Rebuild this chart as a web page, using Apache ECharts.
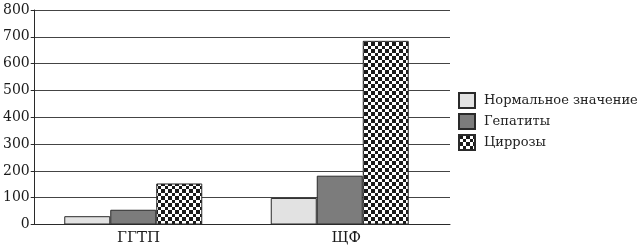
<!DOCTYPE html>
<html>
<head>
<meta charset="utf-8">
<script src="https://cdn.jsdelivr.net/npm/echarts@6/dist/echarts.min.js"></script>
<style>
html,body{margin:0;padding:0;background:#fff;}
#chart{width:643px;height:251px;}
</style>
</head>
<body>
<div id="chart"></div>
<script>
var categories = ['ГГТП', 'ЩФ'];
var seriesNames = ['Нормальное значение', 'Гепатиты', 'Циррозы'];
var normalValues = [31, 99];
var hepatitisValues = [55, 182];
var cirrhosisValues = [153, 685];
var yTicks = [0, 100, 200, 300, 400, 500, 600, 700, 800];

function checker() {
  var c = document.createElement('canvas');
  c.width = 7; c.height = 7;
  var g = c.getContext('2d');
  g.fillStyle = '#ffffff'; g.fillRect(0, 0, 7, 7);
  g.fillStyle = '#1a1a1a';
  g.fillRect(0, 0, 4, 4);
  g.fillRect(4, 4, 3, 3);
  return c;
}

var font = 'DejaVu Serif';
var chart = echarts.init(document.getElementById('chart'), null, {renderer: 'canvas'});
var border = {borderColor: '#2a2a2a', borderWidth: 1};
chart.setOption({
  animation: false,
  backgroundColor: '#ffffff',
  grid: [
    {left: 34, right: 193, top: 10, bottom: 26.5},
    {left: 30, right: 200, top: 10, bottom: 26.5}
  ],
  legend: {
    orient: 'vertical',
    left: 453, top: 87,
    icon: 'rect',
    itemWidth: 16, itemHeight: 15, itemGap: 4,
    data: seriesNames,
    textStyle: {fontFamily: font, fontSize: 13, color: '#222', lineHeight: 15, height: 15, padding: [0, 0, 0, 4]}
  },
  xAxis: [
    {
      gridIndex: 0, type: 'category', data: categories,
      axisLine: {lineStyle: {color: '#2a2a2a', width: 1}},
      axisTick: {show: false},
      axisLabel: {fontFamily: font, fontSize: 15, color: '#1a1a1a', margin: 6}
    },
    {
      gridIndex: 1, type: 'category', data: categories, show: false
    }
  ],
  yAxis: [
    {
      gridIndex: 0, type: 'value', min: 0, max: 800, interval: 100,
      axisLine: {show: true, lineStyle: {color: '#2a2a2a', width: 1}},
      axisTick: {show: true, length: 4, lineStyle: {color: '#2a2a2a'}},
      splitLine: {show: true, lineStyle: {color: '#444', width: 1.2}},
      axisLabel: {fontFamily: font, fontSize: 14, color: '#1a1a1a', margin: 5,
        formatter: function (v) { return yTicks.indexOf(v) >= 0 ? String(v) : ''; }}
    },
    {
      gridIndex: 1, type: 'value', min: 0, max: 800, interval: 100, show: false,
      splitLine: {show: false}
    }
  ],
  series: [
    {name: seriesNames[0], type: 'bar', xAxisIndex: 1, yAxisIndex: 1, data: normalValues,
      barWidth: 46, barGap: '0%',
      itemStyle: Object.assign({color: '#e2e2e2'}, border)},
    {name: seriesNames[1], type: 'bar', xAxisIndex: 1, yAxisIndex: 1, data: hepatitisValues,
      barWidth: 46, barGap: '0%',
      itemStyle: Object.assign({color: '#7c7c7c'}, border)},
    {name: seriesNames[2], type: 'bar', xAxisIndex: 1, yAxisIndex: 1, data: cirrhosisValues,
      barWidth: 46, barGap: '0%',
      itemStyle: Object.assign({color: {image: checker(), repeat: 'repeat'}}, border)}
  ]
});
</script>
</body>
</html>
